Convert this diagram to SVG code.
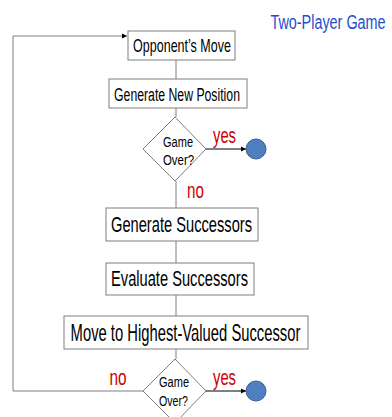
<svg xmlns="http://www.w3.org/2000/svg" width="392" height="417" viewBox="0 0 392 417">
<style>
.box{fill:#ffffff;stroke:#7f7f7f;stroke-width:1}
.dia{fill:#ffffff;stroke:#7f7f7f;stroke-width:1}
.t{font-family:"Liberation Sans",Arial,sans-serif;fill:#000000;text-anchor:middle}
.lbl{font-family:"Liberation Sans",Arial,sans-serif;fill:#cc0000;font-size:22px;text-anchor:middle}
.conn{stroke:#7f7f7f;stroke-width:1;fill:none}
.arr{stroke:#000000;stroke-width:1;fill:none}
.end{fill:#4f7fc0;stroke:#3a5f90;stroke-width:1}
</style>
<defs>
<marker id="ah" markerWidth="6" markerHeight="6" refX="5" refY="3" orient="auto" markerUnits="userSpaceOnUse">
<path d="M0,0.5 L5,3 L0,5.5 Z" fill="#000000"/>
</marker>
</defs>
<rect width="392" height="417" fill="#ffffff"/>
<text transform="translate(328,29) scale(0.686,1)" font-family="Liberation Sans,Arial,sans-serif" font-size="21" fill="#1f4fce" text-anchor="middle">Two-Player Game</text>
<g id="connectors">
<line class="conn" x1="176" y1="60" x2="176" y2="79"/>
<line class="conn" x1="176" y1="108" x2="176" y2="117"/>
<line class="conn" x1="176" y1="181" x2="176" y2="208"/>
<line class="conn" x1="176" y1="241" x2="176" y2="263"/>
<line class="conn" x1="176" y1="295" x2="176" y2="316"/>
<line class="conn" x1="176" y1="349" x2="176" y2="359"/>
<line class="arr" x1="206" y1="149" x2="246" y2="149" marker-end="url(#ah)"/>
<line class="arr" x1="206" y1="391" x2="246" y2="391" marker-end="url(#ah)"/>
<polyline class="conn" points="143,391 13,391 13,36 127,36" marker-end="url(#ah)"/>
<text class="lbl" transform="translate(224.5,143) scale(0.672,1)">yes</text>
<text class="lbl" transform="translate(195.5,198) scale(0.69,1)">no</text>
<text class="lbl" transform="translate(224.5,385) scale(0.672,1)">yes</text>
<text class="lbl" transform="translate(118,385) scale(0.7,1)">no</text>
</g>
<g id="opponent-move">
<rect class="box" x="128" y="31" width="107" height="29"/>
<text class="t" transform="translate(182,52) scale(0.695,1)" font-size="18">Opponent’s Move</text>
</g>
<g id="generate-new-position">
<rect class="box" x="109" y="79" width="138" height="29"/>
<text class="t" transform="translate(177,101) scale(0.645,1)" font-size="19">Generate New Position</text>
</g>
<g id="game-over-1">
<polygon class="dia" points="175,117 206,149 175,181 143,149"/>
<text class="t" transform="translate(178,147) scale(0.735,1)" font-size="15">Game</text>
<text class="t" transform="translate(178.5,165) scale(0.76,1)" font-size="15">Over?</text>
</g>
<g id="end-1">
<circle class="end" cx="256" cy="149" r="10"/>
</g>
<g id="generate-successors">
<rect class="box" x="106" y="208" width="152" height="33"/>
<text class="t" transform="translate(181.5,232) scale(0.667,1)" font-size="22">Generate Successors</text>
</g>
<g id="evaluate-successors">
<rect class="box" x="106" y="263" width="148" height="32"/>
<text class="t" transform="translate(179.5,286) scale(0.667,1)" font-size="22">Evaluate Successors</text>
</g>
<g id="move-highest">
<rect class="box" x="64" y="316" width="244" height="33"/>
<text class="t" transform="translate(185.5,341) scale(0.643,1)" font-size="23">Move to Highest-Valued Successor</text>
</g>
<g id="game-over-2">
<polygon class="dia" points="175,359 206,391 175,423 143,391"/>
<text class="t" transform="translate(174,387) scale(0.735,1)" font-size="15">Game</text>
<text class="t" transform="translate(173.5,406) scale(0.71,1)" font-size="15">Over?</text>
</g>
<g id="end-2">
<circle class="end" cx="256" cy="391" r="10"/>
</g>
</svg>
